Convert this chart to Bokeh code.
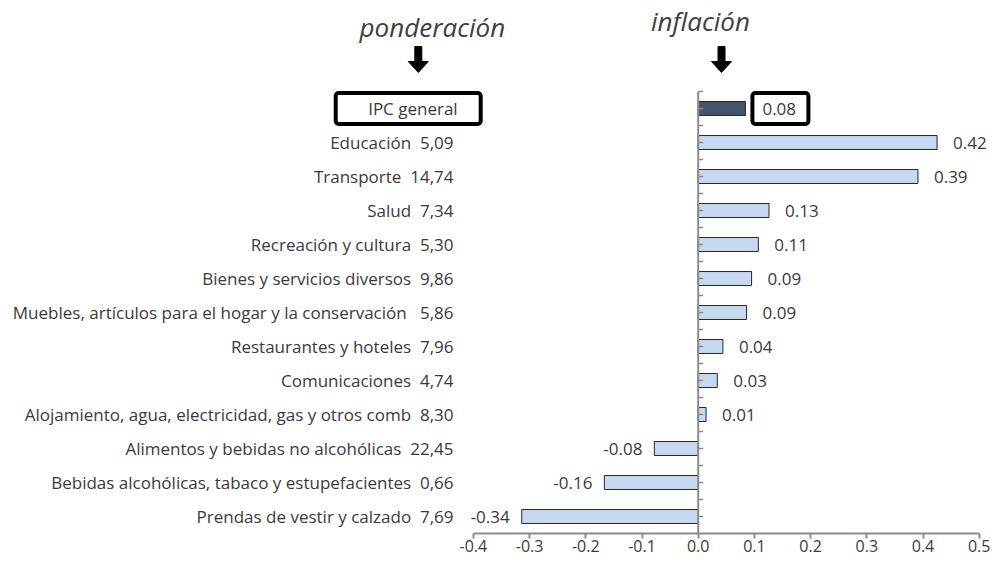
from bokeh.plotting import figure
from bokeh.models import Range1d, LinearAxis, FixedTicker, PrintfTickFormatter, BoxAnnotation, ColumnDataSource
from bokeh.core.properties import value
from bokeh.embed import file_html
from bokeh.resources import INLINE

# ---------------- data ----------------
categories = ["IPC general", "Educación", "Transporte", "Salud", "Recreación y cultura",
              "Bienes y servicios diversos", "Muebles, artículos para el hogar y la conservación",
              "Restaurantes y hoteles", "Comunicaciones",
              "Alojamiento, agua, electricidad, gas y otros comb",
              "Alimentos y bebidas no alcohólicas",
              "Bebidas alcohólicas, tabaco y estupefacientes",
              "Prendas de vestir y calzado"]
weights = ["", "5,09", "14,74", "7,34", "5,30", "9,86", "5,86", "7,96", "4,74", "8,30",
           "22,45", "0,66", "7,69"]
bar_values = [0.084, 0.425, 0.391, 0.126, 0.107, 0.095, 0.086, 0.044, 0.034, 0.014,
              -0.078, -0.167, -0.314]
value_labels = ["0.08", "0.42", "0.39", "0.13", "0.11", "0.09", "0.09", "0.04", "0.03", "0.01",
                "-0.08", "-0.16", "-0.34"]
x_ticks = [-0.4, -0.3, -0.2, -0.1, 0.0, 0.1, 0.2, 0.3, 0.4, 0.5]
header_left = "ponderación"
header_right = "inflación"

# ---------------- geometry helpers ----------------
W, H = 993, 561
AXIS_H = 28
PX_X = 562.0      # pixels per unit on x
PX_Y = 34.0       # pixels per category row
ZERO_PX = 697.7   # canvas x of value 0
dx = 1.0 / PX_X
dy = 1.0 / PX_Y

n = len(categories)
ys = [n - 0.5 - i for i in range(n)]

FONT = "Open Sans"
TXT = "#3a3a3a"
NB = "\u00a0"
FS = "17px"

p = figure(width=W, height=H, output_backend="svg", toolbar_location=None,
           x_axis_type=None, y_axis_type=None,
           x_range=Range1d(-ZERO_PX / PX_X, (W - ZERO_PX) / PX_X),
           y_range=Range1d(0, (H - AXIS_H) / PX_Y),
           min_border_left=0, min_border_right=0, min_border_top=0, min_border_bottom=AXIS_H)
p.outline_line_color = None
p.xgrid.visible = False
p.ygrid.visible = False
p.background_fill_color = "white"
p.border_fill_color = "white"

# x axis
xaxis = LinearAxis(bounds=(-0.4, 0.5), ticker=FixedTicker(ticks=x_ticks),
                   formatter=PrintfTickFormatter(format="%.1f"))
xaxis.axis_line_color = "#8c8c8c"
xaxis.axis_line_width = 2
xaxis.major_tick_line_color = "#8c8c8c"
xaxis.major_tick_line_width = 2
xaxis.major_tick_out = 5
xaxis.major_tick_in = 0
xaxis.minor_tick_line_color = None
xaxis.major_label_text_font = FONT
xaxis.major_label_text_font_size = "16px"
xaxis.major_label_text_color = TXT
xaxis.major_label_standoff = 1
p.add_layout(xaxis, "below")

# bars
colors = ["#44546A"] + ["#C5D9F1"] * (n - 1)
src = ColumnDataSource(dict(y=ys, v=bar_values, c=colors))
p.hbar(y="y", left=0, right="v", height=0.41, fill_color="c", line_color="#262626",
       line_width=1, source=src)

# vertical zero axis with ticks
p.segment(x0=[0], y0=[0], x1=[0], y1=[n], line_color="#8c8c8c", line_width=2)
tick_ys = [k * 0.5 for k in range(1, 2 * n + 1)]
p.segment(x0=[0] * len(tick_ys), y0=tick_ys, x1=[5 * dx] * len(tick_ys), y1=tick_ys,
          line_color="#8c8c8c", line_width=1.5)

# left labels (category + weight)
gaps = [NB * 2] * n
gaps[6] = NB * 3
left_txt = [f"{c}{g}{w}" for c, g, w in zip(categories[1:], gaps[1:], weights[1:])]
p.text(x=[-0.4354] * (n - 1), y=ys[1:], text=left_txt, text_align="right",
       text_baseline="middle", text_font=value(FONT), text_font_size=FS, text_color=TXT)
p.text(x=[-0.428], y=[ys[0]], text=[categories[0]], text_align="right",
       text_baseline="middle", text_font=value(FONT), text_font_size=FS, text_color=TXT)

# value labels
pos_x, pos_y, pos_t, neg_x, neg_y, neg_t = [], [], [], [], [], []
for i in range(n):
    v = bar_values[i]
    if i == 0:
        pos_x.append(v + 17 * dx)
        pos_y.append(ys[i]); pos_t.append(value_labels[i])
    elif v >= 0:
        pos_x.append(v + 16 * dx)
        pos_y.append(ys[i]); pos_t.append(value_labels[i])
    else:
        neg_x.append(v - 12 * dx)
        neg_y.append(ys[i]); neg_t.append(value_labels[i])
p.text(x=pos_x, y=pos_y, text=pos_t, text_align="left", text_baseline="middle",
       text_font=value(FONT), text_font_size=FS, text_color=TXT)
p.text(x=neg_x, y=neg_y, text=neg_t, text_align="right", text_baseline="middle",
       text_font=value(FONT), text_font_size=FS, text_color=TXT)

# highlight boxes for IPC general
y0 = ys[0]
p.add_layout(BoxAnnotation(left=-0.645, right=-0.387, bottom=y0 - 0.455, top=y0 + 0.455,
                           fill_alpha=0, line_color="black", line_alpha=1, line_width=4,
                           border_radius=3))
v0 = bar_values[0]
p.add_layout(BoxAnnotation(left=v0 + 7 * dx, right=v0 + 63 * dx, bottom=y0 - 0.455, top=y0 + 0.455,
                           fill_alpha=0, line_color="black", line_alpha=1, line_width=4,
                           border_radius=3))

# headers
p.text(x=[-0.473], y=[14.91], text=[header_left], text_align="center", text_baseline="alphabetic",
       text_font=value(FONT), text_font_style="italic", text_font_size="26px", text_color="#404040")
p.text(x=[0.004], y=[15.06], text=[header_right], text_align="center", text_baseline="alphabetic",
       text_font=value(FONT), text_font_style="italic", text_font_size="26px", text_color="#404040")

# down arrows
for ax in [-0.498, 0.0415]:
    p.quad(left=[ax - 3.5 * dx], right=[ax + 3.5 * dx], top=[14.32], bottom=[13.85],
           fill_color="black", line_color="black")
    p.patch(x=[ax - 10 * dx, ax + 10 * dx, ax], y=[13.88, 13.88, 13.56],
            fill_color="black", line_color="black")

open("out.html", "w").write(file_html(p, INLINE))
